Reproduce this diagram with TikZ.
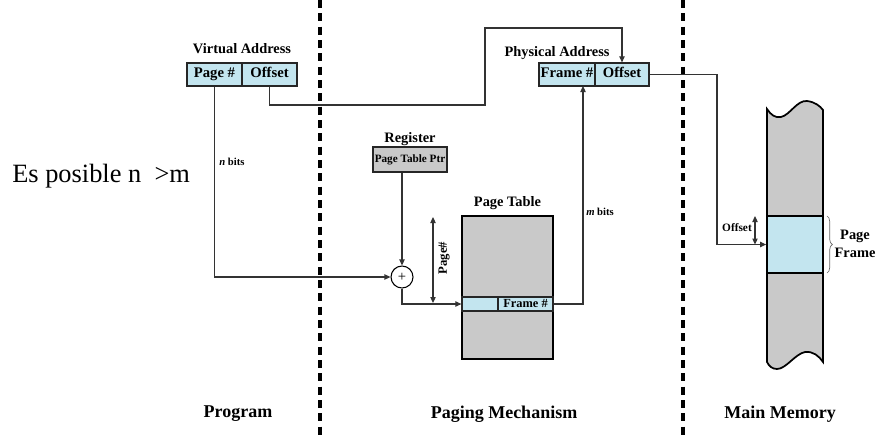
\documentclass[tikz,border=0pt]{standalone}
\usepackage{fontspec}
\setmainfont{Liberation Serif}
\usetikzlibrary{arrows.meta,decorations.pathreplacing,calc}
\definecolor{cellblue}{HTML}{C3E5EF}
\definecolor{boxgray}{HTML}{C9C9C9}
\begin{document}
\begin{tikzpicture}[x=0.75pt,y=-0.75pt,
  lbl/.style={font=\fontsize{10.8}{12}\selectfont\bfseries, inner sep=0},
  cell/.style={draw=black!85, line width=0.9pt, inner sep=0, text height=7.3pt, text depth=2.2pt, font=\fontsize{11}{12}\selectfont\bfseries},
  conn/.style={draw=black!80, line width=0.8pt},
  arr/.style={-{Triangle[length=4.5pt,width=4pt]}},
  darr/.style={{Triangle[length=4.5pt,width=4pt]}-{Triangle[length=4.5pt,width=4pt]}},
  sep/.style={line width=2.6pt, dash pattern=on 6pt off 4pt},
  bits/.style={font=\fontsize{8}{9}\selectfont\bfseries, inner sep=0, anchor=west},
  bottom/.style={font=\fontsize{13.5}{15}\selectfont\bfseries, inner sep=0}]
\useasboundingbox (0,0) rectangle (880,439);

% separators
\draw[sep] (320,0) -- (320,439);
\draw[sep] (683,0) -- (683,439);

% side note
\node[anchor=base west, inner sep=0, font=\fontsize{19.8}{23}\selectfont] (es) at (12,182) {Es posible n\ \ >m};

% virtual address
\node[lbl] (valbl) at (242,49) {Virtual Address};
\node[cell, fill=cellblue, minimum width=41.25pt, minimum height=17.25pt] (vap) at (214.5,74.5) {Page \#};
\node[cell, fill=cellblue, minimum width=41.25pt, minimum height=17.25pt] (vao) at (269.5,74.5) {Offset};

% physical address
\node[lbl] (palbl) at (557,53) {Physical Address};
\node[cell, fill=cellblue, minimum width=42pt, minimum height=17.25pt] (paf) at (567,74.5) {Frame \#};
\node[cell, fill=cellblue, minimum width=40.5pt, minimum height=17.25pt] (pao) at (622,74.5) {Offset};

% register
\node[lbl] (reglbl) at (410,139) {Register};
\node[cell, fill=boxgray, minimum width=55.5pt, minimum height=18.75pt, font=\fontsize{8.4}{9}\selectfont\bfseries, text height=6pt, text depth=1.8pt] (reg) at (410,159.5) {Page Table Ptr};

% adder
\node[circle, draw=black, line width=0.8pt, minimum size=16.5pt, inner sep=0, font=\fontsize{11}{12}\selectfont] (plus) at (402,277) {+};

% page table
\node[lbl] (ptlbl) at (507.5,203) {Page Table};
\node[draw=black, fill=boxgray, line width=1.3pt, minimum width=68.25pt, minimum height=107.25pt, inner sep=0] (pt) at (507.5,287.5) {};
\node[cell, fill=cellblue, minimum width=27pt, minimum height=10.5pt] (ptl) at (480,304) {};
\node[cell, fill=cellblue, minimum width=41.25pt, minimum height=10.5pt, font=\fontsize{9.3}{10}\selectfont\bfseries, text height=6.3pt, text depth=1.2pt] (ptr) at (525.5,304) {Frame \#};

% main memory column
\draw[fill=boxgray, line width=1.3pt]
  (767,109) .. controls (771,115) and (775,118) .. (781,117)
  .. controls (790,115) and (797,100) .. (807,101)
  .. controls (815,102) and (820,106) .. (823,110)
  -- (823,362)
  .. controls (819,356) and (813,351) .. (805,352)
  .. controls (795,354) and (786,369) .. (777,369)
  .. controls (772,369) and (769,366) .. (767,362) -- cycle;
\node[draw=black, fill=cellblue, line width=1.3pt, minimum width=42pt, minimum height=42.75pt, inner sep=0] (frame) at (795,244.5) {};

% connectors
\draw[conn,arr] (vap.south) |- (plus.west);
\node[bits] (nb) at (219,162) {\textit{n} bits};

\coordinate (k1) at (485,105);
\coordinate (k2) at (485,28);
\draw[conn,arr] (vao.south) |- (k1) -- (k2) -| (pao.north);

\draw[conn,arr] (reg.south -| plus) -- (plus.north);
\draw[conn,arr] (plus.south) |- (ptl.west);

\coordinate (pgtop) at (433,217);
\coordinate (pgbot) at (433,303);
\draw[conn,darr] (pgtop) -- (pgbot);
\node[rotate=90, inner sep=0, font=\fontsize{9.5}{10}\selectfont\bfseries] (pgl) at (444,258) {Page\#};

\coordinate (ma) at (583,86);
\draw[conn,arr] (ptr.east) -| (ma);
\node[bits] (mb) at (586,212) {\textit{m} bits};

\coordinate (mc) at (717,244.5);
\draw[conn,arr] (pao.east) -| (mc) -- (frame.west);

\coordinate (otop) at (755,216);
\coordinate (obot) at (755,244.5);
\draw[conn,darr] (otop) -- (obot);
\node[inner sep=0, font=\fontsize{8.5}{9}\selectfont\bfseries] (offl) at (737,228) {Offset};

\draw[decorate, decoration={brace, amplitude=4pt}, draw=black!60, line width=0.5pt] (827,216) -- (827,273);
\node[align=center, inner sep=0, font=\fontsize{10.8}{13}\selectfont\bfseries] (pfl) at (855,244) {Page\\Frame};

% bottom labels
\node[bottom] (prog) at (238,414) {Program};
\node[bottom] (pmech) at (504,414) {Paging Mechanism};
\node[bottom] (mmem) at (780,414) {Main Memory};
\end{tikzpicture}
\end{document}
